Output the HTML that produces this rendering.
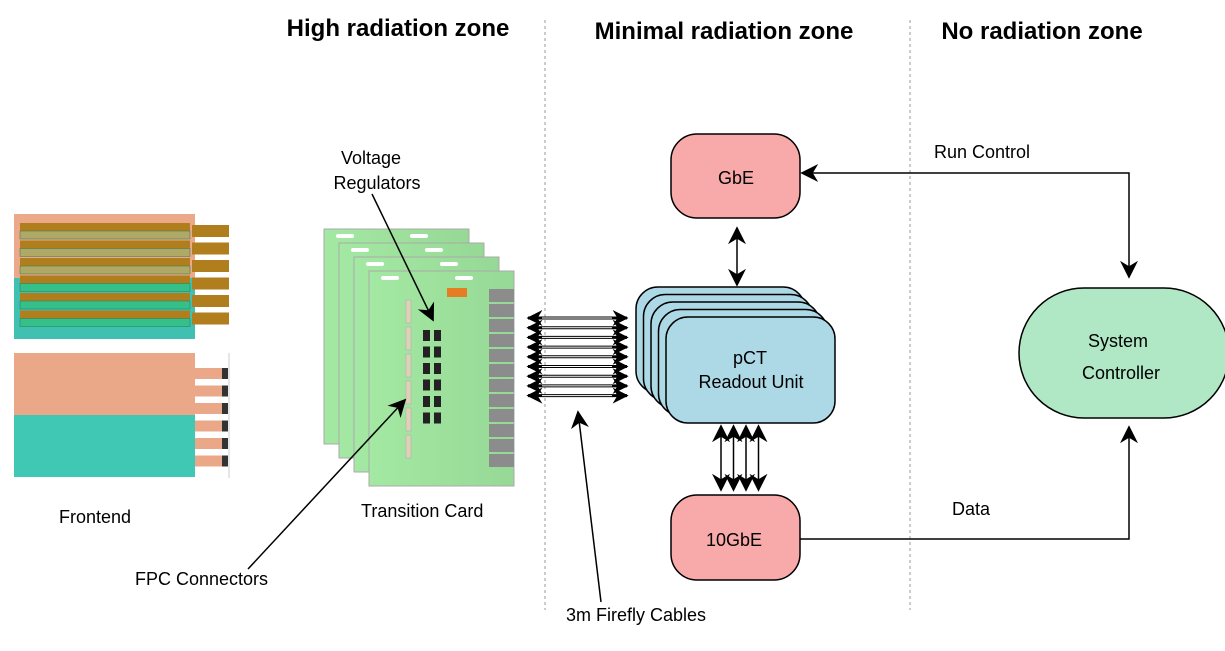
<!DOCTYPE html>
<html><head><meta charset="utf-8"><style>
body{margin:0;background:#fff}
svg{display:block;font-family:"Liberation Sans",sans-serif}
</style></head><body>
<svg id="s" width="1225" height="651" viewBox="0 0 1225 651">
<defs>
<marker id="ahb" viewBox="0 0 10 10" refX="9" refY="5" markerWidth="18" markerHeight="18" orient="auto-start-reverse" markerUnits="userSpaceOnUse"><path d="M0,0 L10,5 L0,10 L3,5 z" fill="#000"/></marker>
<marker id="ahc" viewBox="0 0 10 10" refX="9" refY="5" markerWidth="16" markerHeight="16" orient="auto-start-reverse" markerUnits="userSpaceOnUse"><path d="M0,0 L10,5 L0,10 L3,5 z" fill="#000"/></marker>
<linearGradient id="cg" x1="0" x2="1"><stop offset="0" stop-color="#a3e8a3"/><stop offset="1" stop-color="#96d996"/></linearGradient>
</defs>
<g font-weight="bold" font-size="24" text-anchor="middle">
<text x="398" y="36">High radiation zone</text>
<text x="724" y="39">Minimal radiation zone</text>
<text x="1042" y="39">No radiation zone</text>
</g>
<line x1="545" y1="20" x2="545" y2="610" stroke="#999" stroke-dasharray="3,3"/>
<line x1="910" y1="20" x2="910" y2="610" stroke="#999" stroke-dasharray="3,3"/>

<g id="frontend">
<rect x="14" y="214" width="181" height="64" fill="#eba98a"/>
<rect x="14" y="278" width="181" height="61" fill="#40c0b0"/>
<rect x="14" y="353" width="181" height="62" fill="#eaa888"/>
<rect x="14" y="415" width="181" height="62" fill="#40c8b4"/>
<line x1="229" y1="353" x2="229" y2="478" stroke="#ccc"/>
</g>
<g font-size="18">
<text x="59" y="523">Frontend</text>
<text x="361" y="517">Transition Card</text>
<text x="371" y="164" text-anchor="middle">Voltage</text>
<text x="377" y="189" text-anchor="middle">Regulators</text>
<text x="135" y="585">FPC Connectors</text>
<text x="566" y="621">3m Firefly Cables</text>
</g>

<g id="cards"></g>
<line x1="372" y1="194" x2="433" y2="320" stroke="#000" stroke-width="1.5" marker-end="url(#ahb)"/>
<line x1="248" y1="569" x2="405" y2="400" stroke="#000" stroke-width="1.5" marker-end="url(#ahb)"/>

<g id="cables"></g>
<line x1="601" y1="602" x2="578" y2="412" stroke="#000" stroke-width="1.5" marker-end="url(#ahb)"/>

<g id="rus"></g>
<g font-size="18" text-anchor="middle">
<text x="750" y="364">pCT</text>
<text x="751" y="388">Readout Unit</text>
</g>

<rect x="671" y="134" width="129" height="84" rx="26" fill="#f8a9a9" stroke="#000" stroke-width="1.5"/>
<text x="736" y="184" font-size="18" text-anchor="middle">GbE</text>
<rect x="671" y="495" width="129" height="85" rx="26" fill="#f8a9a9" stroke="#000" stroke-width="1.5"/>
<text x="734" y="546" font-size="18" text-anchor="middle">10GbE</text>

<line x1="737" y1="228" x2="737" y2="285" stroke="#000" stroke-width="1.5" marker-start="url(#ahb)" marker-end="url(#ahb)"/>
<g id="tenarrows"></g>

<rect x="1019" y="288" width="210" height="130" rx="65" fill="#b0e8c6" stroke="#000" stroke-width="1.5"/>
<g font-size="18" text-anchor="middle">
<text x="1118" y="347">System</text>
<text x="1121" y="379">Controller</text>
<text x="982" y="158">Run Control</text>
<text x="971" y="515">Data</text>
</g>
<polyline points="802,173 1129,173 1129,277" fill="none" stroke="#000" stroke-width="1.5" marker-start="url(#ahb)" marker-end="url(#ahb)"/>
<polyline points="800,539 1129,539 1129,427" fill="none" stroke="#000" stroke-width="1.5" marker-end="url(#ahb)"/>
</svg>
<script>
const NS='http://www.w3.org/2000/svg';
function mk(p,t,a){const e=document.createElementNS(NS,t);for(const k in a)e.setAttribute(k,a[k]);p.appendChild(e);return e;}
const fe=document.getElementById('frontend');
for(let r=0;r<6;r++){
  const y=223+r*17.5;
  const band=mk(fe,'rect',{x:20,y:y,width:170,height:8,fill:'#b07e1c'});
  
  
  const cell=mk(fe,'rect',{x:20,y:y+8,width:170,height:8,fill:r<3?'#b0a865':'#34c088',stroke:'#2a7a5a','stroke-width':0.5});
  
  
  const tab=mk(fe,'rect',{x:192,y:y+2,width:37,height:12,fill:'#b07e1c'});
  
  
  const c=mk(fe,'rect',{x:195,y:368+r*17.5,width:27,height:11,fill:'#eaa888'});
  
  
  const b=mk(fe,'rect',{x:222,y:368+r*17.5,width:6,height:11,fill:'#333'});
  
  
}
const cg=document.getElementById('cards');
for(let i=0;i<4;i++){
  const x=324+i*15,y=229+i*14;
  const c=mk(cg,'rect',{x:x,y:y,width:145,height:215,fill:'url(#cg)',stroke:'#aaa','stroke-width':1});
  
  
  mk(cg,'rect',{x:x+12,y:y+5,width:18,height:4,rx:2,fill:'#fff'});
  mk(cg,'rect',{x:x+86,y:y+5,width:18,height:4,rx:2,fill:'#fff'});
}
mk(cg,'rect',{x:447,y:288,width:20,height:9,fill:'#e57d25'});
for(let j=0;j<6;j++){
  const s=mk(cg,'rect',{x:406,y:300+j*27,width:5,height:23,fill:'#e0d0b8',stroke:'#aaa','stroke-width':0.5});
  
  
  for(let k=0;k<2;k++){
    const r=mk(cg,'rect',{x:423+k*11,y:330+j*16.5,width:7,height:11,fill:'#222'});
    
    
  }
}
for(let j=0;j<12;j++){
  const g=mk(cg,'rect',{x:489,y:289+j*15,width:25,height:13,fill:'#8c8c8c'});
  
  
}
const cb=document.getElementById('cables');
for(let j=0;j<9;j++){
  const y=318+j*9.7;
  const l=mk(cb,'line',{x1:528,y1:y,x2:627,y2:y,stroke:'#000','stroke-width':3,'marker-start':'url(#ahc)','marker-end':'url(#ahc)'});
  
  
}
for(let j=0;j<9;j++){
  const y=318+j*9.7;
  const w=mk(cb,'line',{x1:542,y1:y,x2:612,y2:y,stroke:'#fff','stroke-width':1});
  
  
}
const ru=document.getElementById('rus');
for(let i=0;i<5;i++){
  const x=636+i*7.5,y=287+i*7.5;
  const r=mk(ru,'rect',{x:x,y:y,width:169,height:106,rx:22,fill:'#add8e6',stroke:'#000','stroke-width':1.5});
  
  
}
const ta=document.getElementById('tenarrows');
for(let i=0;i<4;i++){
  const l=mk(ta,'line',{x1:721+i*12.5,y1:426,x2:721+i*12.5,y2:490,stroke:'#000','stroke-width':1.5,'marker-start':'url(#ahb)','marker-end':'url(#ahb)'});
  
  
}
</script>
</body></html>
